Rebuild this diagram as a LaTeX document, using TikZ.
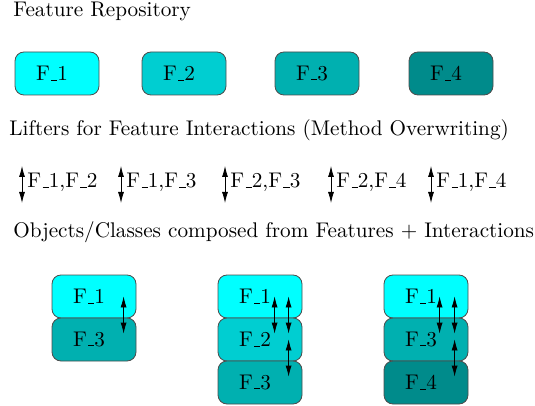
\documentclass[tikz,border=0pt]{standalone}
\usetikzlibrary{arrows.meta,calc}
\definecolor{featone}{RGB}{0,255,255}
\definecolor{feattwo}{RGB}{0,206,209}
\definecolor{featthree}{RGB}{0,176,176}
\definecolor{featfour}{RGB}{0,139,139}
\newcommand\fus{\kern.06em\vbox{\hrule width.3em height.6pt}}
\begin{document}
\begin{tikzpicture}[x=0.5pt,y=-0.5pt,every node/.style={font=\fontsize{10.6pt}{12pt}\selectfont}]
    \tikzstyle{feature}=[draw=black!70,rounded corners=4.5pt,minimum height=21.5pt,text width=21pt,inner xsep=10.5pt,inner ysep=0pt,align=left];
    \tikzstyle{title}=[anchor=base west,inner sep=0pt];
    \tikzstyle{lifter}=[anchor=base west,inner sep=0pt];
    \tikzstyle{lift}=[{Latex[length=5.5pt,width=3pt]}-{Latex[length=5.5pt,width=3pt]},thin];
    \useasboundingbox (0,0) rectangle (535,406);

    % feature repository
    \node at (13,17)  (repo) [title] {Feature Repository};
    \node at (57,73.5)  (f1) [feature,fill=featone] {F\fus1};
    \node at (184,73.5) (f2) [feature,fill=feattwo] {F\fus2};
    \node at (317,73.5) (f3) [feature,fill=featthree] {F\fus3};
    \node at (451,73.5) (f4) [feature,fill=featfour] {F\fus4};

    % lifters
    \node at (9,136) (lifters) [title] {Lifters for Feature Interactions (Method Overwriting)};
    \node at (27,188)  (l12) [lifter] {F\fus1,F\fus2};
    \node at (126,188) (l13) [lifter] {F\fus1,F\fus3};
    \node at (230,188) (l23) [lifter] {F\fus2,F\fus3};
    \node at (336,188) (l24) [lifter] {F\fus2,F\fus4};
    \node at (436,188) (l14) [lifter] {F\fus1,F\fus4};
    \foreach \l in {l12,l13,l23,l24,l14}
        \draw[lift] ($(\l.base west)+(-5,-22)$) -- ($(\l.base west)+(-5,15)$);

    % composed objects
    \node at (13,238) (objects) [title] {Objects/Classes composed from Features + Interactions};
    \node at (94,296.5)  (a1) [feature,fill=featone] {F\fus1};
    \node at (94,339.5)  (a3) [feature,fill=featthree] {F\fus3};
    \node at (260,296.5) (b1) [feature,fill=featone] {F\fus1};
    \node at (260,339.5) (b2) [feature,fill=feattwo] {F\fus2};
    \node at (260,382.5) (b3) [feature,fill=featthree] {F\fus3};
    \node at (426,296.5) (c1) [feature,fill=featone] {F\fus1};
    \node at (426,339.5) (c3) [feature,fill=featthree] {F\fus3};
    \node at (426,382.5) (c4) [feature,fill=featfour] {F\fus4};

    \draw[lift] ($(a1.south west)+(72,-22)$) -- ($(a3.north west)+(72,16)$);
    \draw[lift] ($(b1.south west)+(57,-22)$) -- ($(b2.north west)+(57,16)$);
    \draw[lift] ($(b1.south west)+(71,-22)$) -- ($(b2.north west)+(71,16)$);
    \draw[lift] ($(b2.south west)+(71,-22)$) -- ($(b3.north west)+(71,16)$);
    \draw[lift] ($(c1.south west)+(56,-22)$) -- ($(c3.north west)+(56,16)$);
    \draw[lift] ($(c1.south west)+(71,-22)$) -- ($(c3.north west)+(71,16)$);
    \draw[lift] ($(c3.south west)+(71,-22)$) -- ($(c4.north west)+(71,16)$);
\end{tikzpicture}
\end{document}
